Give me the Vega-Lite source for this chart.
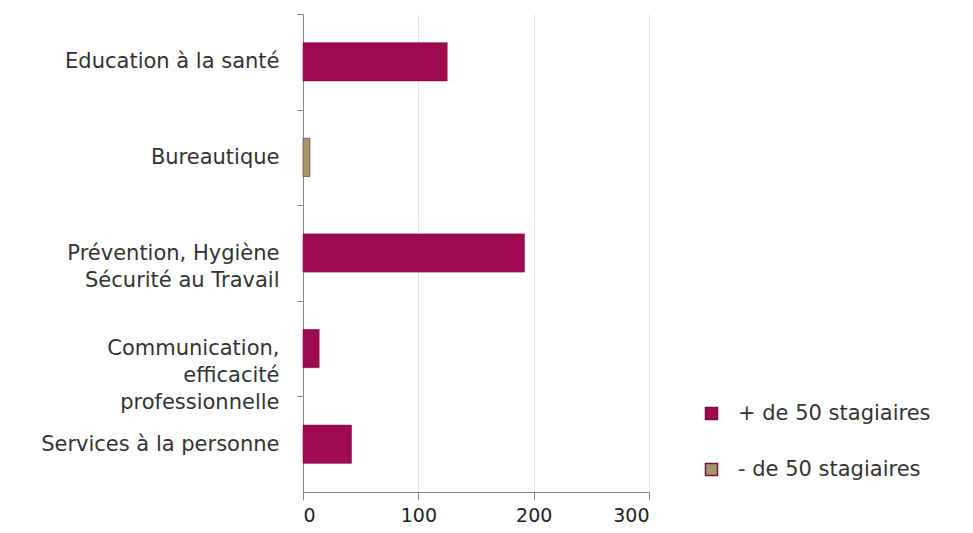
{
  "$schema": "https://vega.github.io/schema/vega-lite/v6.json",
  "width": 346,
  "height": 478,
  "autosize": "none",
  "padding": {"left": 303, "top": 14, "right": 324, "bottom": 41},
  "background": "white",
  "config": {"view": {"stroke": null}, "font": "DejaVu Sans"},
  "data": {"values": [
    {"theme": "Education à la santé", "value": 125, "group": "+ de 50 stagiaires"},
    {"theme": "Bureautique", "value": 6, "group": "- de 50 stagiaires"},
    {"theme": "Prévention, Hygiène|Sécurité au Travail", "value": 192, "group": "+ de 50 stagiaires"},
    {"theme": "Communication,|efficacité|professionnelle", "value": 14, "group": "+ de 50 stagiaires"},
    {"theme": "Services à la personne", "value": 42, "group": "+ de 50 stagiaires"}
  ]},
  "mark": {"type": "bar", "stroke": "#7a1040", "strokeWidth": 0.6},
  "encoding": {
    "y": {
      "field": "theme", "type": "nominal", "sort": null,
      "scale": {"paddingInner": 0.6, "paddingOuter": 0.3},
      "axis": {
        "title": null, "labelExpr": "split(datum.label, '|')",
        "labelFontSize": 21, "labelColor": "#333333", "labelLineHeight": 27,
        "labelPadding": 18, "tickSize": 6, "tickOffset": -47.8, "labelOffset": 47.8,
        "tickColor": "#888888", "domainColor": "#888888", "labelLimit": 400
      }
    },
    "x": {
      "field": "value", "type": "quantitative",
      "scale": {"domain": [0, 300]},
      "axis": {
        "title": null, "values": [0, 100, 200, 300], "labelFontSize": 19,
        "labelColor": "#222222", "tickSize": 8, "tickColor": "#888888",
        "domainColor": "#888888", "gridColor": "#e4e4e4", "labelPadding": 6
      }
    },
    "color": {
      "field": "group", "type": "nominal",
      "scale": {"domain": ["+ de 50 stagiaires", "- de 50 stagiaires"], "range": ["#9e0a50", "#a49868"]},
      "legend": {
        "title": null, "orient": "none", "legendX": 398, "legendY": 389,
        "symbolType": "square", "symbolSize": 144, "labelFontSize": 21,
        "labelColor": "#333333", "rowPadding": 34, "labelOffset": 16, "labelLimit": 400
      }
    }
  }
}
